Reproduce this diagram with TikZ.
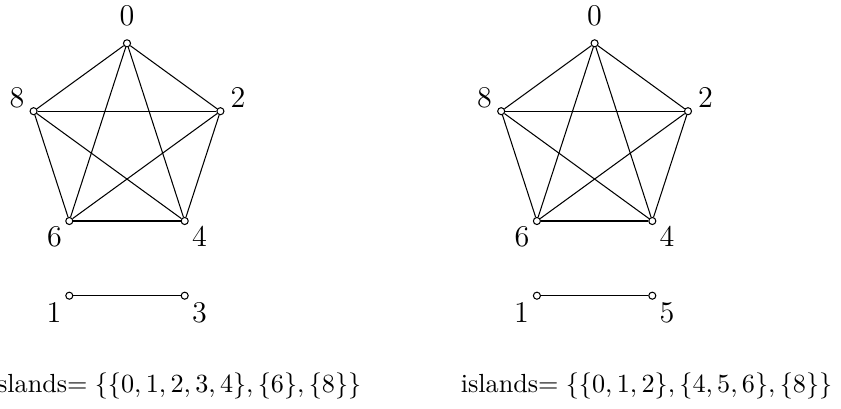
\documentclass[tikz,border=0pt]{standalone}
\begin{document}
\begin{tikzpicture}[x=0.3817pt,y=-0.3817pt,
  v/.style={circle,draw,fill=white,inner sep=0pt,minimum size=2.7pt,line width=0.4pt},
  lab/.style={anchor=base,inner sep=0pt,font=\fontsize{11.5}{13}\selectfont},
  txt/.style={anchor=base,inner sep=0pt},
  edge/.style={line width=0.4pt}]
\useasboundingbox (0,0) rectangle (841,409);
% left graph
\node[v] (La) at (127,43.3) {};
\node[v] (Lb) at (220.4,111.2) {};
\node[v] (Lc) at (184.7,221) {};
\node[v] (Ld) at (69.3,221) {};
\node[v] (Le) at (33.6,111.2) {};
\node[v] (Lf) at (69.3,295.7) {};
\node[v] (Lg) at (184.7,295.7) {};
\foreach \p/\q in {La/Lb,La/Lc,La/Ld,La/Le,Lb/Lc,Lb/Ld,Lb/Le,Lc/Ld,Lc/Le,Ld/Le,Lf/Lg}
  \draw[edge] (\p) -- (\q);
\node[lab] (La0) at (127,26) {0};
\node[lab] (Lb0) at (238,107.5) {2};
\node[lab] (Lc0) at (199.5,246.5) {4};
\node[lab] (Ld0) at (54.5,246.5) {6};
\node[lab] (Le0) at (17,107.5) {8};
\node[lab] (Lf0) at (54,322.5) {1};
\node[lab] (Lg0) at (199.5,322.5) {3};
% right graph
\begin{scope}[shift={(467.6,0)}]
\node[v] (Ra) at (127,43.3) {};
\node[v] (Rb) at (220.4,111.2) {};
\node[v] (Rc) at (184.7,221) {};
\node[v] (Rd) at (69.3,221) {};
\node[v] (Re) at (33.6,111.2) {};
\node[v] (Rf) at (69.3,295.7) {};
\node[v] (Rg) at (184.7,295.7) {};
\foreach \p/\q in {Ra/Rb,Ra/Rc,Ra/Rd,Ra/Re,Rb/Rc,Rb/Rd,Rb/Re,Rc/Rd,Rc/Re,Rd/Re,Rf/Rg}
  \draw[edge] (\p) -- (\q);
\node[lab] (Ra0) at (127,26) {0};
\node[lab] (Rb0) at (238,107.5) {2};
\node[lab] (Rc0) at (199.5,246.5) {4};
\node[lab] (Rd0) at (54.5,246.5) {6};
\node[lab] (Re0) at (17,107.5) {8};
\node[lab] (Rf0) at (54,322.5) {1};
\node[lab] (Rg0) at (199.5,322.5) {5};
\end{scope}
\node[txt] (Ltext) at (175.5,392) {islands$=\{\{0,1,2,3,4\},\{6\},\{8\}\}$};
\node[txt] (Rtext) at (646.5,392) {islands$=\{\{0,1,2\},\{4,5,6\},\{8\}\}$};
\end{tikzpicture}
\end{document}
